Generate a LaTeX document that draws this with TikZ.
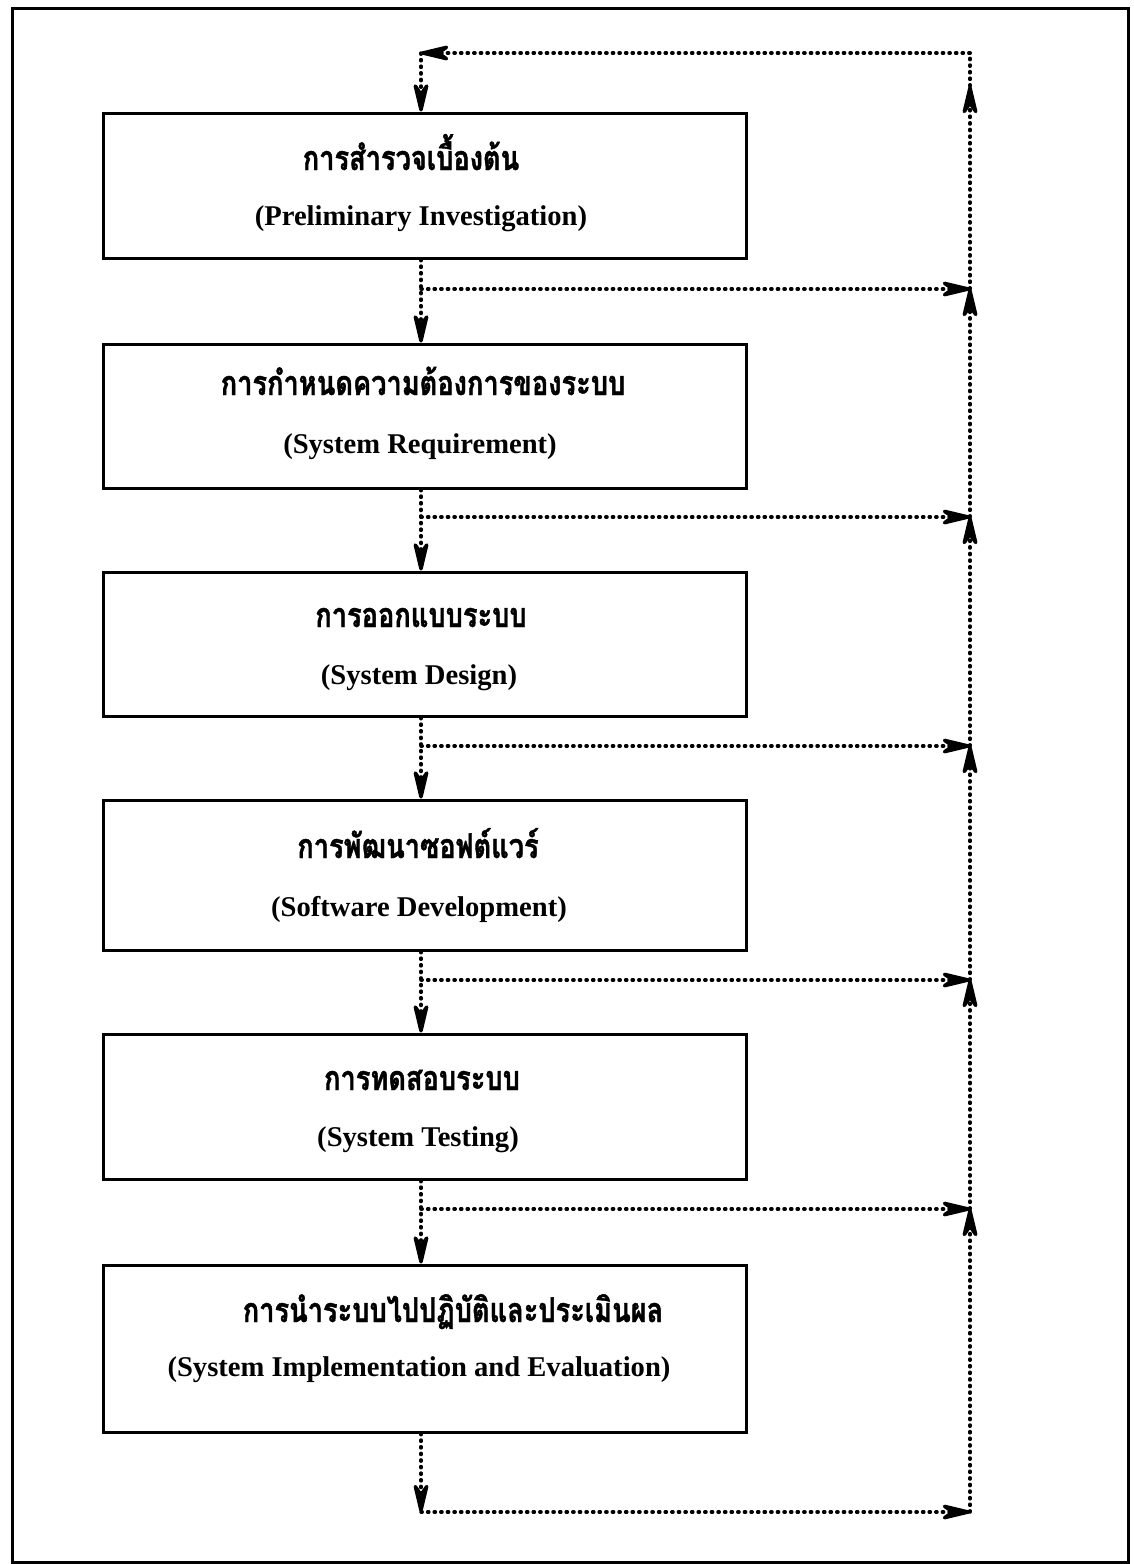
\documentclass[tikz,border=0pt]{standalone}
\usepackage{fontspec}
\setmainfont{Liberation Serif}
\newfontfamily\thaifont[Script=Thai,FakeStretch=0.8,FakeBold=1.2]{Loma}
\usetikzlibrary{arrows.meta}

\begin{document}
\begin{tikzpicture}[x=1pt,y=-1pt,
  stagebox/.style={draw,line width=3pt,minimum width=643pt,inner sep=0pt},
  thtext/.style={anchor=base,font=\thaifont\bfseries\fontsize{34}{38}\selectfont},
  entext/.style={anchor=base,font=\bfseries\fontsize{28.6}{32}\selectfont},
  dotline/.style={line width=3.5pt,dash pattern=on 1.2pt off 5.4pt,line cap=round},
  dotarrow/.style={dotline,-{Stealth[length=40pt,width=19pt,inset=14pt,round=false]}}
]
\useasboundingbox (0,0) rectangle (1133,1564);

% outer frame
\draw[line width=3pt] (12,8) rectangle (1128,1562);

% stage boxes
\node[stagebox,minimum height=145pt] (b1) at (424.5,185.5) {};
\node[stagebox,minimum height=144pt] (b2) at (424.5,416) {};
\node[stagebox,minimum height=144pt] (b3) at (424.5,644) {};
\node[stagebox,minimum height=150pt] (b4) at (424.5,875) {};
\node[stagebox,minimum height=145pt] (b5) at (424.5,1106.5) {};
\node[stagebox,minimum height=167pt] (b6) at (424.5,1348.5) {};

% stage titles
\node[thtext] (t1) at (411,170) {การสำรวจเบื้องต้น};
\node[entext] (e1) at (421,225) {(Preliminary Investigation)};
\node[thtext] (t2) at (423,395) {การกำหนดความต้องการของระบบ};
\node[entext] (e2) at (420,453) {(System Requirement)};
\node[thtext] (t3) at (421,627) {การออกแบบระบบ};
\node[entext] (e3) at (419,684) {(System Design)};
\node[thtext] (t4) at (418,858) {การพัฒนาซอฟต์แวร์};
\node[entext] (e4) at (419,916) {(Software Development)};
\node[thtext] (t5) at (422,1090) {การทดสอบระบบ};
\node[entext] (e5) at (418,1146) {(System Testing)};
\node[thtext] (t6) at (453,1322) {การนำระบบไปปฏิบัติและประเมินผล};
\node[entext] (e6) at (419,1376) {(System Implementation and Evaluation)};

% junction points of the feedback loop
\coordinate (tl) at (421,53);
\coordinate (tr) at (970,53);
\coordinate (tq) at (970,86);
\coordinate (j1) at (421,289);   \coordinate (r1) at (970,289);
\coordinate (j2) at (421,517);   \coordinate (r2) at (970,517);
\coordinate (j3) at (421,746);   \coordinate (r3) at (970,746);
\coordinate (j4) at (421,980);   \coordinate (r4) at (970,980);
\coordinate (j5) at (421,1209);  \coordinate (r5) at (970,1209);
\coordinate (j6) at (421,1512);  \coordinate (r6) at (970,1512);

% return path to the first stage
\draw[dotarrow] (tr) -- (tl);
\draw[dotarrow] (tl) -- (tl |- b1.north);

% forward flow between stages
\draw[dotarrow] (tl |- b1.south) -- (tl |- b2.north);
\draw[dotarrow] (tl |- b2.south) -- (tl |- b3.north);
\draw[dotarrow] (tl |- b3.south) -- (tl |- b4.north);
\draw[dotarrow] (tl |- b4.south) -- (tl |- b5.north);
\draw[dotarrow] (tl |- b5.south) -- (tl |- b6.north);
\draw[dotarrow] (tl |- b6.south) -- (j6);

% branches to the feedback line
\draw[dotarrow] (j1) -- (r1);
\draw[dotarrow] (j2) -- (r2);
\draw[dotarrow] (j3) -- (r3);
\draw[dotarrow] (j4) -- (r4);
\draw[dotarrow] (j5) -- (r5);
\draw[dotarrow] (j6) -- (r6);

% feedback line going up
\draw[dotarrow] (r6) -- (r5);
\draw[dotarrow] (r5) -- (r4);
\draw[dotarrow] (r4) -- (r3);
\draw[dotarrow] (r3) -- (r2);
\draw[dotarrow] (r2) -- (r1);
\draw[dotarrow] (r1) -- (tq);
\draw[dotline] (tq) -- (tr);
\end{tikzpicture}
\end{document}
